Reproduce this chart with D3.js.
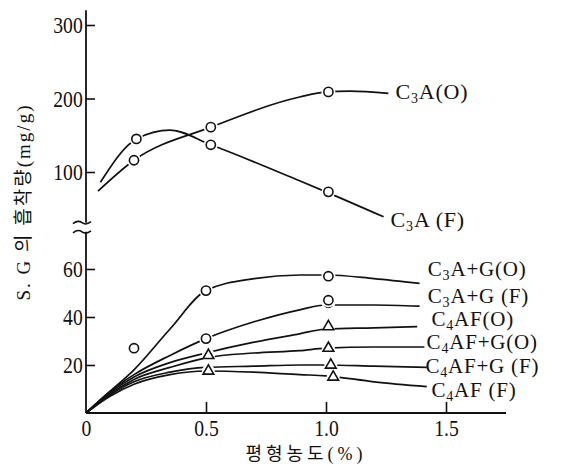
<!DOCTYPE html>
<html>
<head>
<meta charset="utf-8">
<script src="https://cdn.jsdelivr.net/npm/d3@7"></script>
<style>
  body { margin: 0; background: #fff; }
  text { font-family: "Liberation Serif", "Noto Sans CJK KR", serif; fill: #111; }
</style>
</head>
<body>
<div id="chart-area"></div>
<script>
// tick values
var xTicks = [0, 0.5, 1.0, 1.5];
var upperTicks = [100, 200, 300];
var lowerTicks = [20, 40, 60];

// upper panel (C3A alone)
var c3aO_x = [0.05, 0.2, 0.52, 0.89, 1.0, 1.1, 1.26];
var c3aO_y = [74, 116, 161, 202, 209, 210, 207];
var c3aF_x = [0.06, 0.21, 0.35, 0.52, 0.89, 1.0, 1.24];
var c3aF_y = [86, 145, 157, 137, 88, 73, 39];
var upperCircles = [[0.2, 116], [0.52, 161], [1.01, 209], [0.21, 145], [0.52, 137], [1.01, 73]];

// lower panel
var lowX = [0, 0.1, 0.2, 0.35, 0.5, 0.7, 0.89, 1.0, 1.2];
var c3agO_y = [0, 9, 18, 35, 51, 56, 57.5, 57.5, 56];
var c3agF_y = [0, 9, 16, 24, 31, 38, 43, 45, 45];
var c4afO_y = [0, 8.5, 15, 21, 25, 29.5, 33, 35, 35.5];
var c4afgO_y = [0, 8, 14, 19, 23, 25, 26, 27, 27.5];
var c4afgF_y = [0, 7.5, 13, 17, 19, 19.5, 20, 20, 19.5];
var c4afF_y = [0, 7, 12, 16, 17.5, 17, 16, 15.5, 13];
var lowEndX = [1.39, 1.39, 1.38, 1.41, 1.42, 1.42];
var lowEndY = [54, 44.5, 36, 27.5, 19, 11];
var lowerCircles = [[0.2, 27], [0.5, 51], [0.5, 31], [1.01, 57], [1.01, 46], [1.01, 47]];
var lowerTriangles = [[0.51, 24], [0.51, 17.5], [1.01, 36], [1.01, 27], [1.02, 20], [1.03, 15]];

var labels = [
  {base: "C", sub: "3", rest: "A(O)", x: 1.26, v: 199, panel: "up"},
  {base: "C", sub: "3", rest: "A (F)", x: 1.24, v: 25, panel: "up"},
  {base: "C", sub: "3", rest: "A+G(O)", x: 1.395, v: 56.9, panel: "low"},
  {base: "C", sub: "3", rest: "A+G (F)", x: 1.395, v: 46, panel: "low"},
  {base: "C", sub: "4", rest: "AF(O)", x: 1.41, v: 36.4, panel: "low"},
  {base: "C", sub: "4", rest: "AF+G(O)", x: 1.39, v: 26.7, panel: "low"},
  {base: "C", sub: "4", rest: "AF+G (F)", x: 1.385, v: 16.7, panel: "low"},
  {base: "C", sub: "4", rest: "AF (F)", x: 1.41, v: 6.6, panel: "low"}
];

var width = 565, height = 468;
var svg = d3.select("#chart-area").append("svg")
    .attr("width", width).attr("height", height);

var x = d3.scaleLinear().domain([0, 1.5]).range([86, 446]);
var yUp = d3.scaleLinear().domain([0, 300]).range([245.5, 25]);
var yLow = d3.scaleLinear().domain([0, 75]).range([413, 233]);

// axes
var upAxis = d3.axisLeft(yUp).tickValues(upperTicks).tickSize(-9).tickPadding(4);
var gUp = svg.append("g").attr("transform", "translate(" + x(0) + ",0)").call(upAxis);
var lowAxis = d3.axisLeft(yLow).tickValues(lowerTicks).tickSize(-9).tickPadding(4);
var gLow = svg.append("g").attr("transform", "translate(" + x(0) + ",0)").call(lowAxis);
var bAxis = d3.axisBottom(x).tickValues(xTicks).tickSize(-11).tickPadding(6)
    .tickFormat(function(d) { return d === 0 ? "0" : d3.format(".1f")(d); });
var gB = svg.append("g").attr("transform", "translate(0," + yLow(0) + ")").call(bAxis);

[gUp, gLow, gB].forEach(function(g) {
  g.select(".domain").remove();
  g.selectAll("line").attr("stroke", "#111").attr("stroke-width", 1.6);
  g.selectAll("text").attr("font-size", "24px").attr("fill", "#111")
    .attr("font-family", "Liberation Serif")
    .attr("transform", "scale(0.82,1)");
});
gB.selectAll(".tick").filter(function(d) { return d === 0; }).select("line").remove();

// axis lines
svg.append("line").attr("x1", x(0)).attr("x2", x(0))
  .attr("y1", yUp(320)).attr("y2", yUp(31))
  .attr("stroke", "#111").attr("stroke-width", 1.8);
svg.append("line").attr("x1", x(0)).attr("x2", x(0))
  .attr("y1", yLow(75.5)).attr("y2", yLow(0))
  .attr("stroke", "#111").attr("stroke-width", 1.8);
svg.append("line").attr("x1", x(0)).attr("x2", x(1.75))
  .attr("y1", yLow(0)).attr("y2", yLow(0))
  .attr("stroke", "#111").attr("stroke-width", 1.8);

// break marks
[yUp(31), yLow(75.5)].forEach(function(yy) {
  svg.append("path")
    .attr("d", "M" + (x(0) - 13) + "," + (yy + 1) + " q5,-4 9,-1 t9,-1")
    .attr("fill", "none").attr("stroke", "#111").attr("stroke-width", 1.6);
});

var line = d3.line().curve(d3.curveMonotoneX);

function drawSeries(xs, ys, yScale) {
  var pts = xs.map(function(d, i) { return [x(d), yScale(ys[i])]; });
  svg.append("path").attr("d", line(pts))
    .attr("fill", "none").attr("stroke", "#111").attr("stroke-width", 1.7);
}

drawSeries(c3aO_x, c3aO_y, yUp);
drawSeries(c3aF_x, c3aF_y, yUp);
[c3agO_y, c3agF_y, c4afO_y, c4afgO_y, c4afgF_y, c4afF_y].forEach(function(ys, i) {
  drawSeries(lowX.concat([lowEndX[i]]), ys.concat([lowEndY[i]]), yLow);
});

// markers
function circle(px, py) {
  svg.append("circle").attr("cx", px).attr("cy", py).attr("r", 7).attr("fill", "#fff");
  svg.append("circle").attr("cx", px).attr("cy", py).attr("r", 4.6)
    .attr("fill", "#fff").attr("stroke", "#111").attr("stroke-width", 1.6);
}
function triangle(px, py) {
  svg.append("circle").attr("cx", px).attr("cy", py).attr("r", 6.5).attr("fill", "#fff");
  svg.append("path").attr("transform", "translate(" + px + "," + py + ")")
    .attr("d", d3.symbol().type(d3.symbolTriangle).size(50)())
    .attr("fill", "#fff").attr("stroke", "#111").attr("stroke-width", 1.6);
}
upperCircles.forEach(function(d) { circle(x(d[0]), yUp(d[1])); });
lowerCircles.forEach(function(d) { circle(x(d[0]), yLow(d[1])); });
lowerTriangles.forEach(function(d) { triangle(x(d[0]), yLow(d[1])); });

// series labels
labels.forEach(function(d) {
  var ys = d.panel === "up" ? yUp : yLow;
  var t = svg.append("text").attr("x", x(d.x) + 7).attr("y", ys(d.v))
    .attr("font-size", d.panel === "up" ? "22px" : "21px").attr("letter-spacing", "0.8px");
  t.append("tspan").text(d.base);
  t.append("tspan").attr("dy", 4).attr("font-size", "14px").text(d.sub);
  t.append("tspan").attr("dy", -4).text(d.rest);
});

// axis titles
svg.append("text").attr("x", 306).attr("y", 460).attr("text-anchor", "middle")
  .attr("font-size", "18px").attr("letter-spacing", "4px").text("평형농도(%)");
svg.append("text").attr("transform", "translate(30,202) rotate(-90)")
  .attr("text-anchor", "middle").attr("font-size", "19px").attr("letter-spacing", "2px")
  .text("S. G 의  흡착량(mg/g)");
</script>
</body>
</html>
